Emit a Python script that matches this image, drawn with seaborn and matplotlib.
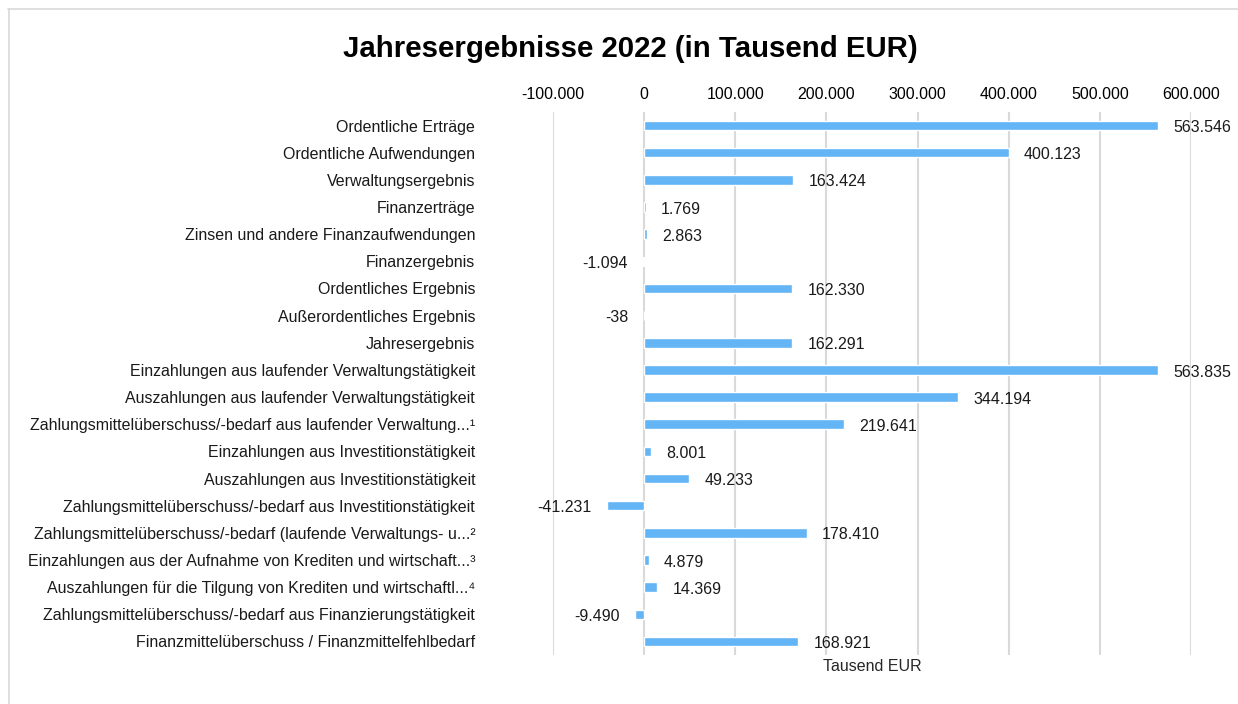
import matplotlib
matplotlib.use("Agg")
import matplotlib.pyplot as plt
import seaborn as sns
import pandas as pd
from matplotlib.lines import Line2D

categories = [
    "Ordentliche Erträge",
    "Ordentliche Aufwendungen",
    "Verwaltungsergebnis",
    "Finanzerträge",
    "Zinsen und andere Finanzaufwendungen",
    "Finanzergebnis",
    "Ordentliches Ergebnis",
    "Außerordentliches Ergebnis",
    "Jahresergebnis",
    "Einzahlungen aus laufender Verwaltungstätigkeit",
    "Auszahlungen aus laufender Verwaltungstätigkeit",
    "Zahlungsmittelüberschuss/-bedarf aus laufender Verwaltung...¹",
    "Einzahlungen aus Investitionstätigkeit",
    "Auszahlungen aus Investitionstätigkeit",
    "Zahlungsmittelüberschuss/-bedarf aus Investitionstätigkeit",
    "Zahlungsmittelüberschuss/-bedarf (laufende Verwaltungs- u...²",
    "Einzahlungen aus der Aufnahme von Krediten und wirtschaft...³",
    "Auszahlungen für die Tilgung von Krediten und wirtschaftl...⁴",
    "Zahlungsmittelüberschuss/-bedarf aus Finanzierungstätigkeit",
    "Finanzmittelüberschuss / Finanzmittelfehlbedarf",
]
values = [563546, 400123, 163424, 1769, 2863, -1094, 162330, -38, 162291,
          563835, 344194, 219641, 8001, 49233, -41231, 178410, 4879, 14369,
          -9490, 168921]
x_ticks = [-100000, 0, 100000, 200000, 300000, 400000, 500000, 600000]

def de_fmt(v):
    return f"{v:,.0f}".replace(",", ".")

df = pd.DataFrame({"cat": categories, "val": values})

sns.set_theme(style="white")
plt.rcParams['font.family'] = ['Liberation Sans', 'DejaVu Sans']

FS = 11.5
fig = plt.figure(figsize=(12.38, 7.04), dpi=100)
ax = fig.add_axes([553/1238, 1-655/704, (1191-553)/1238, (655-112)/704])

sns.barplot(data=df, x="val", y="cat", orient="h", color="#64B5F6",
            width=0.35, ax=ax, saturation=1, zorder=3)

ax.set_xlim(-100000, 600000)
ax.set_xticks(x_ticks)
ax.set_xticklabels([de_fmt(t) for t in x_ticks])
ax.xaxis.tick_top()
ax.tick_params(axis='x', length=0, pad=7, labelsize=FS, colors="#000000")
ax.tick_params(axis='y', length=0, pad=56, labelsize=FS, colors="#000000")
for lab in ax.get_yticklabels():
    lab.set_color("#1a1a1a")
ax.grid(axis='x', color="#d9d9d9", linewidth=1.5, zorder=0)
ax.grid(axis='y', visible=False)
for s in ax.spines.values():
    s.set_visible(False)
ax.set_ylabel("")
ax.set_xlabel("Tausend EUR", fontsize=FS, labelpad=3)
ax.xaxis.set_label_position('bottom')

for i, v in enumerate(values):
    if v >= 0:
        ax.annotate(de_fmt(v), (v, i), xytext=(11, -1.5), textcoords="offset points",
                    ha="left", va="center", fontsize=FS, color="#1a1a1a")
    else:
        ax.annotate(de_fmt(v), (v, i), xytext=(-11, -1.5), textcoords="offset points",
                    ha="right", va="center", fontsize=FS, color="#1a1a1a")

fig.text(630/1238, 1-49/704, "Jahresergebnisse 2022 (in Tausend EUR)",
         ha="center", va="center", fontsize=21.2, fontweight="bold", color="#000000")

fig.add_artist(Line2D([8/1238, 1], [1-8.5/704, 1-8.5/704], transform=fig.transFigure,
                      color="#d9d9d9", linewidth=1.2))
fig.add_artist(Line2D([8.5/1238, 8.5/1238], [0, 1-8.5/704], transform=fig.transFigure,
                      color="#d9d9d9", linewidth=1.2))

fig.savefig("out.png", dpi=100)
